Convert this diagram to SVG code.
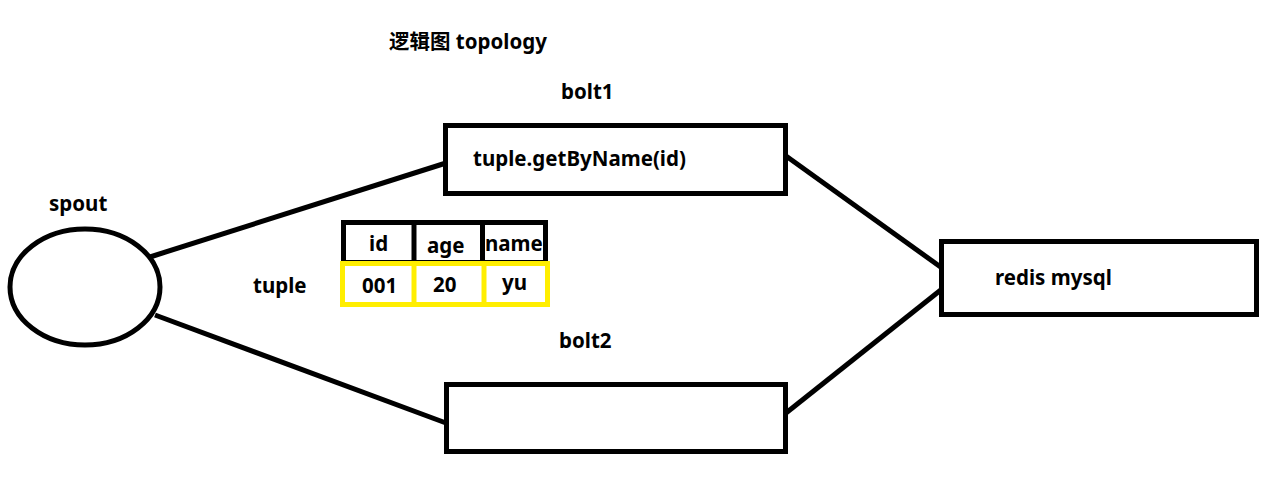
<svg xmlns="http://www.w3.org/2000/svg" width="1279" height="477" viewBox="0 0 1279 477">
<style>
.t{font-family:"Noto Sans","Noto Sans CJK SC",sans-serif;font-weight:bold;font-size:20.5px;fill:#000}
.b{fill:#fff;stroke:#000;stroke-width:5}
.y{fill:none;stroke:#ffee00;stroke-width:5}
.c{stroke:#000;stroke-width:5;fill:none}
</style>
<rect width="1279" height="477" fill="#fff"/>
<text class="t" x="389" y="49">逻辑图 topology</text>
<g id="connectors">
<line class="c" x1="150" y1="257" x2="446" y2="163"/>
<line class="c" x1="155" y1="315" x2="446" y2="423"/>
<line class="c" x1="786" y1="156" x2="942" y2="268"/>
<line class="c" x1="786" y1="413" x2="942" y2="289"/>
</g>
<g id="spout">
<ellipse class="b" cx="85" cy="287" rx="75" ry="58"/>
<text class="t" x="49" y="211">spout</text>
</g>
<g id="bolt1">
<rect class="b" x="445.5" y="125.5" width="340" height="68"/>
<text class="t" x="561" y="99">bolt1</text>
<text class="t" x="473" y="166">tuple.getByName(id)</text>
</g>
<g id="bolt2">
<rect class="b" x="446.5" y="384.5" width="339" height="67"/>
<text class="t" x="559" y="348">bolt2</text>
</g>
<g id="store">
<rect class="b" x="941.5" y="241.5" width="315" height="73"/>
<text class="t" x="995" y="285">redis mysql</text>
</g>
<g id="tuple">
<text class="t" x="253" y="293">tuple</text>
<rect x="343.5" y="222.5" width="202" height="40" fill="none" stroke="#000" stroke-width="5"/>
<line x1="414" y1="222" x2="414" y2="263" stroke="#000" stroke-width="5"/>
<line x1="482.5" y1="222" x2="482.5" y2="263" stroke="#000" stroke-width="5"/>
<rect class="y" x="342.5" y="263.5" width="205" height="41"/>
<line x1="414" y1="263" x2="414" y2="305" stroke="#ffee00" stroke-width="5"/>
<line x1="484" y1="263" x2="484" y2="305" stroke="#ffee00" stroke-width="5"/>
<text class="t" x="369" y="251">id</text>
<text class="t" x="427" y="253">age</text>
<text class="t" x="485" y="251">name</text>
<text class="t" x="362" y="293">001</text>
<text class="t" x="433" y="292">20</text>
<text class="t" x="502" y="290">yu</text>
</g>
</svg>
